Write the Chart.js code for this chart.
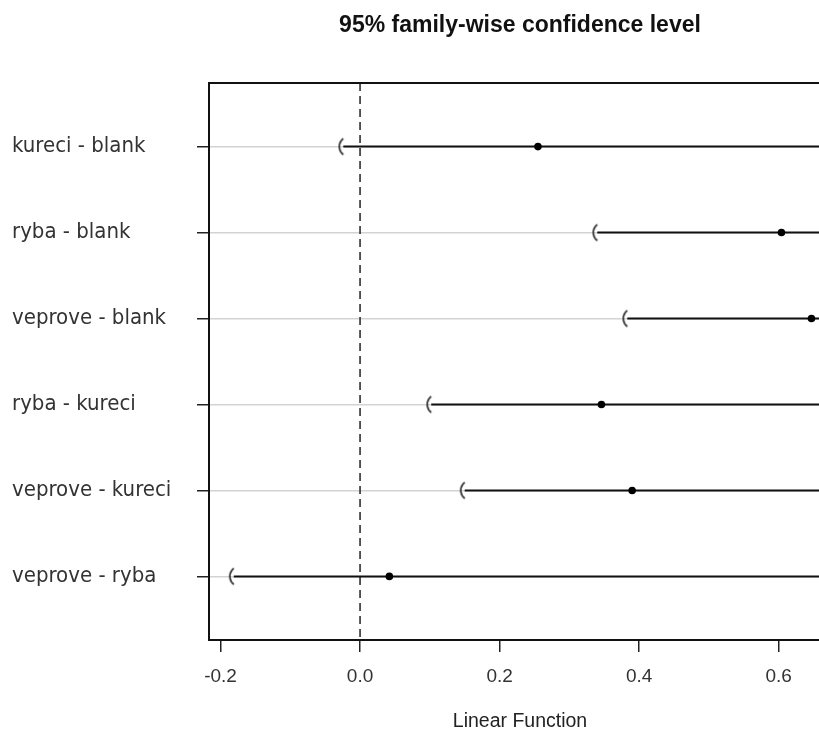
<!DOCTYPE html>
<html lang="en">

<head>
    <meta charset="UTF-8">
    <title>95% family-wise confidence level</title>
    <script src="https://cdn.jsdelivr.net/npm/chart.js"></script>
    <style>
        body {
            margin: 0;
            background: #fff;
            overflow: hidden;
        }

        /* plot box runs a little past the right edge of the window, as in the original */
        #chartBox {
            width: 831px;
            height: 734px;
        }
    </style>
</head>

<body>
    <div id="chartBox">
        <canvas id="myChart" width="831" height="734"></canvas>
    </div>
    <script>
        // comparisons, top to bottom
        const comparisons = ["kureci - blank", "ryba - blank", "veprove - blank",
            "ryba - kureci", "veprove - kureci", "veprove - ryba"];
        const estimate = [0.255, 0.604, 0.647, 0.346, 0.390, 0.042];
        const lower = [-0.024, 0.340, 0.383, 0.102, 0.150, -0.181];
        // one-sided intervals, upper bound is +Inf
        const upper = [Infinity, Infinity, Infinity, Infinity, Infinity, Infinity];
        const xTicks = [-0.2, 0.0, 0.2, 0.4, 0.6];
        const refLine = 0;

        const xMin = -0.2165, xMax = 0.675;
        const yMin = 0.26, yMax = 6.74;

        const labelFont = "'DejaVu Sans Condensed', 'Liberation Sans Narrow', 'DejaVu Sans', sans-serif";
        const axisFont = "'Liberation Sans', Arial, sans-serif";

        // the "(" drawn at the lower bound
        function makeParen() {
            const c = document.createElement('canvas');
            c.width = 20;
            c.height = 20;
            const g = c.getContext('2d');
            g.strokeStyle = '#333';
            g.lineWidth = 1.7;
            g.beginPath();
            g.arc(16, 10, 10, Math.PI - 0.93, Math.PI + 0.93);
            g.stroke();
            return c;
        }
        const paren = makeParen();

        const datasets = comparisons.map((name, i) => ({
            label: name,
            data: [
                { x: lower[i], y: i + 1 },
                { x: estimate[i], y: i + 1 },
                { x: Math.min(upper[i], xMax), y: i + 1 }
            ],
            showLine: true,
            borderColor: '#111',
            borderWidth: 2,
            pointStyle: [paren, 'circle', 'circle'],
            pointRadius: [10, 3.8, 0],
            pointBackgroundColor: '#000',
            pointBorderColor: '#000',
            pointBorderWidth: 0
        }));

        datasets.push({
            label: 'zero',
            data: [{ x: refLine, y: yMin }, { x: refLine, y: yMax }],
            showLine: true,
            borderColor: '#222',
            borderWidth: 1.5,
            borderDash: [8, 5],
            pointRadius: 0
        });

        // title over the plot region and the box round it
        const boxPlugin = {
            id: 'boxPlugin',
            afterDraw(chart) {
                const { ctx, chartArea } = chart;
                ctx.save();
                ctx.strokeStyle = '#111';
                ctx.lineWidth = 2;
                ctx.strokeRect(chartArea.left, chartArea.top,
                    chartArea.right - chartArea.left, chartArea.bottom - chartArea.top);
                ctx.fillStyle = '#111';
                ctx.font = "bold 23px " + axisFont;
                ctx.textAlign = 'center';
                ctx.textBaseline = 'middle';
                ctx.fillText('95% family-wise confidence level', (chartArea.left + chartArea.right) / 2, 26);
                ctx.restore();
            }
        };

        new Chart(document.getElementById('myChart'), {
            type: 'scatter',
            data: { datasets: datasets },
            plugins: [boxPlugin],
            options: {
                responsive: false,
                animation: false,
                layout: { autoPadding: false, padding: { top: 83, left: 12, right: 0, bottom: 0 } },
                plugins: {
                    legend: { display: false },
                    tooltip: { enabled: false }
                },
                scales: {
                    x: {
                        type: 'linear',
                        min: xMin,
                        max: xMax,
                        afterBuildTicks: (scale) => {
                            scale.ticks = xTicks.map(v => ({ value: v }));
                        },
                        afterFit: (scale) => { scale.height = 94; },
                        border: { display: false },
                        grid: {
                            drawOnChartArea: false,
                            tickLength: 12,
                            tickColor: '#222',
                            lineWidth: 1.5
                        },
                        ticks: {
                            padding: 13,
                            color: '#333',
                            font: { family: axisFont, size: 19 },
                            callback: (v) => v.toFixed(1)
                        },
                        title: {
                            display: true,
                            text: 'Linear Function',
                            color: '#222',
                            font: { family: axisFont, size: 19.5 },
                            padding: { top: 0, bottom: 1 }
                        }
                    },
                    y: {
                        type: 'linear',
                        reverse: true,
                        min: yMin,
                        max: yMax,
                        afterBuildTicks: (scale) => {
                            scale.ticks = comparisons.map((c, i) => ({ value: i + 1 }));
                        },
                        afterFit: (scale) => { scale.width = 197; },
                        border: { display: false },
                        grid: {
                            color: '#d3d3d3',
                            lineWidth: 1.5,
                            tickLength: 12,
                            tickColor: '#222'
                        },
                        ticks: {
                            crossAlign: 'far',
                            color: '#333',
                            font: { family: labelFont, size: 22 },
                            callback: (v) => comparisons[Math.round(v) - 1]
                        }
                    }
                }
            }
        });
    </script>
</body>

</html>
